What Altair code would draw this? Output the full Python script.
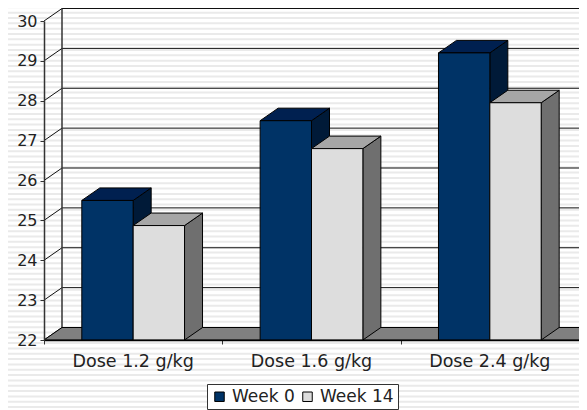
import altair as alt
import numpy as np
import pandas as pd

doses = ["Dose 1.2 g/kg", "Dose 1.6 g/kg", "Dose 2.4 g/kg"]
series = ["Week 0", "Week 14"]
week0 = [25.5, 27.5, 29.2]
week14 = [24.87, 26.8, 27.95]
y_ticks = [22, 23, 24, 25, 26, 27, 28, 29, 30]
x_edges = [0, 1, 2, 3]

front_colors = ["#003366", "#DDDDDD"]
top_colors = ["#002050", "#A6A6A6"]
side_colors = ["#001A38", "#6F6F6F"]

# layout
W, H = 535, 319
PL, PT = 36, 13
SVG_W, SVG_H = 571, 402
DX = 18 / W * 3      # depth in category units
DV = 12.5 / H * 8    # depth in axis units
BAR = 0.288
Y0 = 22

xs = alt.Scale(domain=[0, 3], nice=False, zero=False)
ys = alt.Scale(domain=[22, 30], nice=False, zero=False)
x_axis = alt.Axis(values=x_edges, labels=False, title=None, grid=False, tickSize=4, zindex=2,
                  domainColor="#000000", tickColor="#333333", domainWidth=1.5)
y_axis = alt.Axis(values=y_ticks, title=None, grid=False, tickSize=4, format="d", zindex=2,
                  domainColor="#333333", domainWidth=1.5, tickColor="#333333",
                  labelFont="DejaVu Sans", labelFontSize=16, labelColor="#222222", labelPadding=3)
X = lambda f: alt.X(f, type="quantitative", scale=xs, axis=x_axis, stack=False)
Y = lambda f: alt.Y(f, type="quantitative", scale=ys, axis=y_axis, stack=False)

# background stripes, expressed on the y axis
rows = np.arange(-6.0, SVG_H + 2, 5.33)
stripes = pd.DataFrame({"v": 30 - (rows - PT) * 8 / H})
stripe_layer = alt.Chart(stripes).mark_rule(color="#EAEAEA", strokeWidth=2, clip=False).encode(
    y=Y("v"), x=alt.value(-PL), x2=alt.value(SVG_W - PL))

# walls
grid = pd.DataFrame({"v": y_ticks})
grid["b"] = grid.v + DV
grid["x0"] = DX
grid["x1"] = 3 + DX
back_grid = alt.Chart(grid).mark_rule(color="#111111", strokeWidth=1).encode(
    x=X("x0"), x2="x1", y=Y("b"))
side_rows = pd.DataFrame(
    [{"k": v, "x": 0, "y": v} for v in y_ticks] + [{"k": v, "x": DX, "y": v + DV} for v in y_ticks])
side_grid = alt.Chart(side_rows).mark_line(color="#111111", strokeWidth=1).encode(
    x=X("x"), y=Y("y"), detail="k:N")
back_v = pd.DataFrame({"x": [DX], "a": [Y0 + DV], "b": [30 + DV]})
back_line = alt.Chart(back_v).mark_rule(color="#333333", strokeWidth=1.5).encode(
    x=X("x"), y=Y("a"), y2="b")

# floor
floor = pd.DataFrame({"y": [Y0, Y0 + DV], "x": [0, DX], "x2": [3, 3 + DX]})
floor_layer = alt.Chart(floor).mark_area(orient="horizontal", color="#808080", stroke="#000000", strokeWidth=1).encode(
    y=Y("y"), x=X("x"), x2="x2")

# bars
front, tops, sides = [], [], []
for s, vals in enumerate([week0, week14]):
    for d, v in enumerate(vals):
        a = d + 0.5 - BAR + s * BAR
        b = a + BAR
        key = f"{d}-{s}"
        front.append({"s": series[s], "a": a, "b": b, "v": v, "base": Y0})
        tops.append({"k": key, "si": s, "y": v, "x": a, "x2": b})
        tops.append({"k": key, "si": s, "y": v + DV, "x": a + DX, "x2": b + DX})
        sides.append({"k": key, "si": s, "x": b, "y": Y0, "y2": v})
        sides.append({"k": key, "si": s, "x": b + DX, "y": Y0 + DV, "y2": v + DV})
front, tops, sides = map(pd.DataFrame, (front, tops, sides))

bar_layers = []
for s in range(2):
    sd = sides[sides.si == s]
    td = tops[tops.si == s]
    fd = front[front.s == series[s]]
    bar_layers.append(alt.Chart(sd).mark_area(color=side_colors[s], stroke="#000000", strokeWidth=1).encode(
        x=X("x"), y=Y("y"), y2="y2", detail="k:N"))
    bar_layers.append(alt.Chart(td).mark_area(orient="horizontal", color=top_colors[s], stroke="#000000", strokeWidth=1).encode(
        y=Y("y"), x=X("x"), x2="x2", detail="k:N"))
    bar_layers.append(alt.Chart(fd).mark_rect(stroke="#000000", strokeWidth=1).encode(
        x=X("a"), x2="b", y=Y("v"), y2="base",
        color=alt.Color("s:N", scale=alt.Scale(domain=series, range=front_colors), legend=alt.Legend(
            title=None, orient="none", legendX=207 - 8 - PL, legendY=384 - 8 - PT, direction="horizontal",
            symbolType="square", symbolSize=90, symbolStrokeColor="#000000", symbolStrokeWidth=1,
            labelFont="DejaVu Sans", labelFontSize=17, labelColor="#222222", labelLimit=200,
            fillColor="#FFFFFF", strokeColor="#333333", padding=4, columnPadding=4, symbolOffset=0))))

# category labels
cats = pd.DataFrame({"x": [0.5, 1.5, 2.5], "t": doses})
cat_layer = alt.Chart(cats).mark_text(font="DejaVu Sans", fontSize=17.5, color="#222222", baseline="middle").encode(
    x=X("x"), y=alt.value(362 - 8 - PT), text="t:N")

chart = alt.layer(stripe_layer, back_grid, side_grid, back_line, floor_layer, *bar_layers, cat_layer).properties(
    width=W, height=H,
    autosize=alt.AutoSizeParams(type="none"),
    padding={"left": PL, "top": PT, "right": SVG_W - PL - W, "bottom": SVG_H - PT - H},
    background="#FFFFFF",
).configure_view(stroke=None)

chart.save("out.html", embed_options={"renderer": "svg", "actions": False})
